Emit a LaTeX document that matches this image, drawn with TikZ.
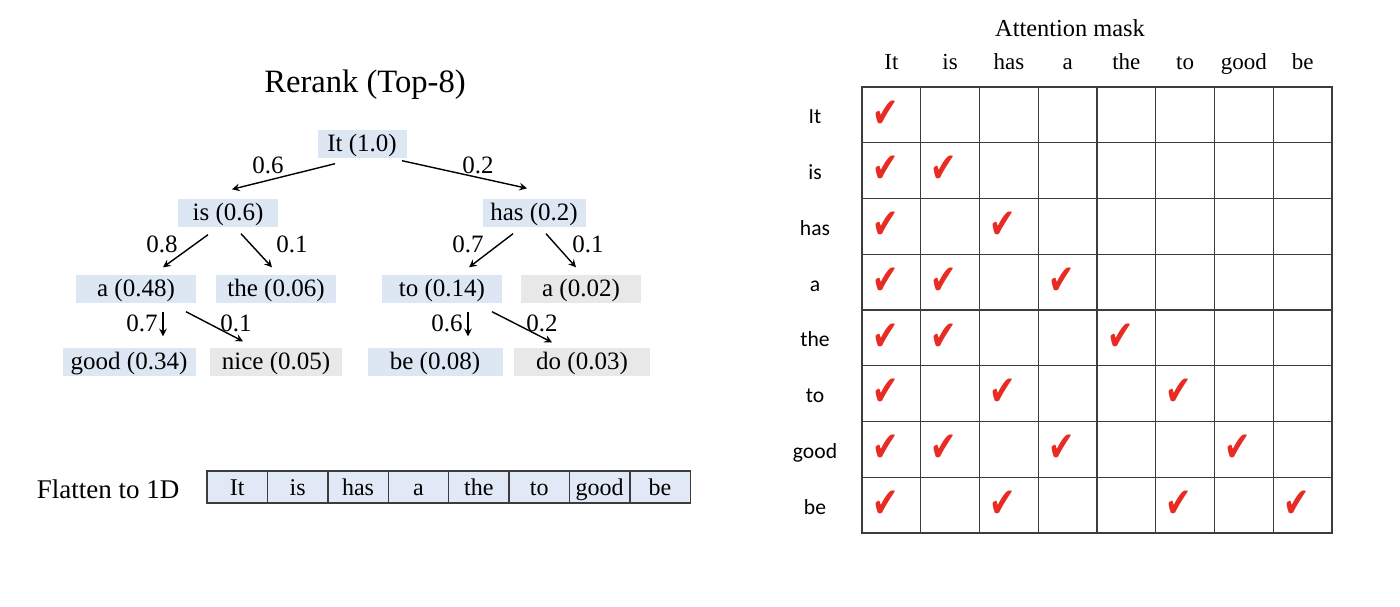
\documentclass[tikz,border=0pt]{standalone}
\usepackage{fontspec}
\setmainfont{Liberation Serif}
\newfontfamily\rowfont{Carlito}
\newfontfamily\tickfont{DejaVu Sans}
\usetikzlibrary{arrows,calc}
\definecolor{tokblue}{RGB}{221,231,244}
\definecolor{tokgray}{RGB}{232,232,232}
\definecolor{flatblue}{RGB}{226,233,246}
\definecolor{tickred}{RGB}{232,44,36}
\definecolor{linegray}{RGB}{60,60,60}

\begin{document}
\begin{tikzpicture}[x=0.5pt,y=-0.5pt,>=stealth,line width=0.7pt,
  tok/.style={rectangle, fill=tokblue, inner sep=0pt, minimum height=14pt, text height=10pt, text depth=2.2pt, font=\fontsize{12.5}{14}\selectfont},
  tokg/.style={tok, fill=tokgray},
  wt/.style={inner sep=0pt, font=\fontsize{12.5}{14}\selectfont},
  flat/.style={rectangle, draw=linegray, fill=flatblue, line width=0.7pt, minimum width=30.2pt, minimum height=16pt, inner sep=0pt, text height=9.6pt, text depth=0.8pt, font=\fontsize{12}{14}\selectfont},
  cell/.style={rectangle, draw=linegray, line width=0.7pt, minimum width=29.375pt, minimum height=27.875pt, inner sep=0pt},
  tick/.style={text=tickred, inner sep=0pt, font=\tickfont\fontsize{15}{16}\selectfont}]
\useasboundingbox (0,0) rectangle (1400,606);

% tree
\draw (365,85) node[font=\fontsize{16.3}{18}\selectfont] (title) {Rerank (Top-8)};
\draw (362,144) node[tok, minimum width=44.5pt] (it) {It (1.0)};
\draw (228,213) node[tok, minimum width=50pt] (is) {is (0.6)};
\draw (534,213) node[tok, minimum width=51.5pt] (has) {has (0.2)};
\draw (136,289) node[tok, minimum width=60pt] (a) {a (0.48)};
\draw (276,289) node[tok, minimum width=60pt] (the) {the (0.06)};
\draw (442,289) node[tok, minimum width=60pt] (to) {to (0.14)};
\draw (581,289) node[tokg, minimum width=60pt] (a2) {a (0.02)};
\draw (129,362) node[tok, minimum width=66.5pt] (good) {good (0.34)};
\draw (276,362) node[tokg, minimum width=66pt] (nice) {nice (0.05)};
\draw (435,362) node[tok, minimum width=67.5pt] (be) {be (0.08)};
\draw (582,362) node[tokg, minimum width=68pt] (do) {do (0.03)};

\draw[->] ($(it.south)+(-27,5)$) -- ($(is.north)+(4,-9)$);
\draw[->] ($(it.south)+(40,2)$) -- ($(has.north)+(-7,-10)$);
\draw[->] ($(is.south)+(-20,7)$) -- ($(a.north)+(27,-7)$);
\draw[->] ($(is.south)+(13,6)$) -- ($(the.north)+(-4,-7)$);
\draw[->] ($(has.south)+(-21,6)$) -- ($(to.north)+(27,-7)$);
\draw[->] ($(has.south)+(12,6)$) -- ($(a2.north)+(-5,-7)$);
\draw[->] ($(a.south)+(27,8)$) -- ($(good.north)+(34,-11)$);
\draw[->] ($(a.south)+(50,8)$) -- ($(nice.north)+(-33,-6)$);
\draw[->] ($(to.south)+(26,8)$) -- ($(be.north)+(33,-11)$);
\draw[->] ($(to.south)+(50,8)$) -- ($(do.north)+(-30,-5)$);

\draw (268,165) node[wt] (w1) {0.6};
\draw (478,165) node[wt] (w2) {0.2};
\draw (162,244) node[wt] (w3) {0.8};
\draw (292,244) node[wt] (w4) {0.1};
\draw (468,244) node[wt] (w5) {0.7};
\draw (588,244) node[wt] (w6) {0.1};
\draw (142,323) node[wt] (w7) {0.7};
\draw (236,323) node[wt] (w8) {0.1};
\draw (447,323) node[wt] (w9) {0.6};
\draw (542,323) node[wt] (w10) {0.2};

% flattened sequence
\draw (108,489) node[font=\fontsize{13.5}{16}\selectfont] (flatlbl) {Flatten to 1D};
\foreach \w [count=\i] in {It,is,has,a,the,to,good,be}
  \draw (176.8+60.4*\i,487) node[flat] (f\i) {\w};

% attention mask
\draw (1070,28) node[font=\fontsize{12.2}{14}\selectfont] (masktitle) {Attention mask};
\foreach \w [count=\i] in {It,is,has,a,the,to,good,be} {
  \draw (832.6+58.75*\i,64) node[text height=8pt, text depth=2.4pt, font=\fontsize{11.5}{14}\selectfont] (col\i) {\w};
  \draw (815,62.6+55.75*\i) node[text height=7.6pt, text depth=2.2pt, font=\rowfont\fontsize{10.8}{13}\selectfont] (row\i) {\w};
  \foreach \j in {1,...,8}
    \draw (832.6+58.75*\j,59.1+55.75*\i) node[cell] (c-\i-\j) {};
}
\foreach \r/\c in {1/1,2/1,2/2,3/1,3/3,4/1,4/2,4/4,5/1,5/2,5/5,6/1,6/3,6/6,7/1,7/2,7/4,7/7,8/1,8/3,8/6,8/8}
  \draw ($(c-\r-\c)+(-6,-1)$) node[tick] (t-\r-\c) {\scalebox{1.05}[1.4]{✔}};
\end{tikzpicture}
\end{document}
